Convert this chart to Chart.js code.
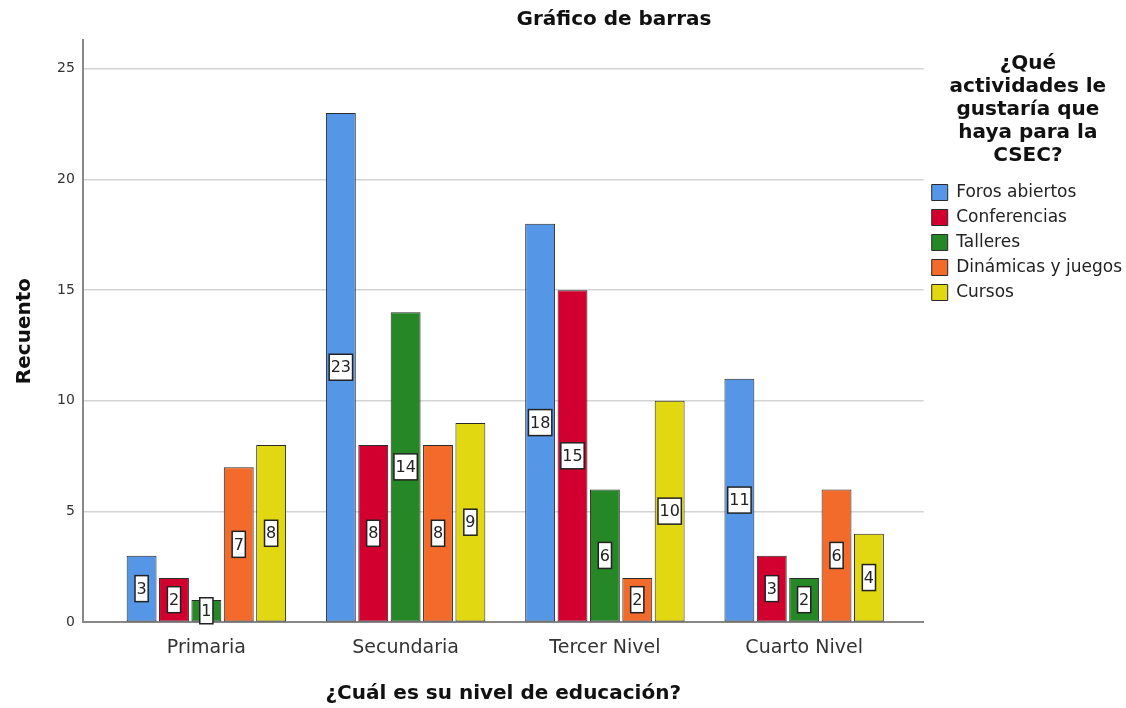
<!DOCTYPE html>
<html>
<head>
<meta charset="utf-8">
<script src="https://cdn.jsdelivr.net/npm/chart.js@4"></script>
<style>
  html, body { margin: 0; background: #fff; }
  #marco { width: 1126px; height: 708px; }
</style>
</head>
<body>
<div id="marco"><canvas id="grafico"></canvas></div>
<script>
const niveles = ['Primaria', 'Secundaria', 'Tercer Nivel', 'Cuarto Nivel'];
const actividades = ['Foros abiertos', 'Conferencias', 'Talleres', 'Dinámicas y juegos', 'Cursos'];
const forosAbiertos = [3, 23, 18, 11];
const conferencias = [2, 8, 15, 3];
const talleres = [1, 14, 6, 2];
const dinamicas = [7, 8, 2, 6];
const cursos = [8, 9, 10, 4];
const ticksY = [0, 5, 10, 15, 20, 25];

const colores = ['#5596e6', '#d2002e', '#268726', '#f26b2b', '#e2d811'];
const series = [forosAbiertos, conferencias, talleres, dinamicas, cursos];

Chart.defaults.font.family = '"DejaVu Sans", sans-serif';
Chart.defaults.color = '#333';

// recuadro blanco con el valor en medio de cada barra
const etiquetas = {
  id: 'etiquetas',
  afterDatasetsDraw(chart) {
    const ctx = chart.ctx;
    ctx.save();
    ctx.font = '16px "DejaVu Sans"';
    ctx.textAlign = 'center';
    ctx.textBaseline = 'middle';
    chart.data.datasets.forEach((ds, i) => {
      chart.getDatasetMeta(i).data.forEach((barra, j) => {
        const txt = String(ds.data[j]);
        const w = ctx.measureText(txt).width + 3;
        const h = 26;
        const cx = barra.x;
        const cy = (barra.y + barra.base) / 2;
        ctx.fillStyle = '#fff';
        ctx.fillRect(cx - w / 2, cy - h / 2, w, h);
        ctx.strokeStyle = '#222';
        ctx.lineWidth = 1.5;
        ctx.strokeRect(cx - w / 2, cy - h / 2, w, h);
        ctx.fillStyle = '#222';
        ctx.fillText(txt, cx, cy + 1);
      });
    });
    ctx.restore();
  }
};

const titulo = {
  id: 'titulo',
  afterDraw(chart) {
    const ctx = chart.ctx;
    ctx.save();
    ctx.font = 'bold 20px "DejaVu Sans"';
    ctx.fillStyle = '#111';
    ctx.textAlign = 'center';
    ctx.textBaseline = 'middle';
    ctx.fillText('Gráfico de barras', 614, 20);
    ctx.restore();
  }
};

new Chart(document.getElementById('grafico'), {
  type: 'bar',
  data: {
    labels: niveles,
    datasets: actividades.map((nombre, i) => ({
      label: nombre,
      data: series[i],
      backgroundColor: colores[i],
      borderColor: '#2a2a2a',
      borderWidth: 1,
      borderSkipped: false,
      categoryPercentage: 0.8125,
      barPercentage: 0.923
    }))
  },
  options: {
    responsive: true,
    maintainAspectRatio: false,
    animation: false,
    layout: { padding: { top: 40, right: -6, bottom: 0, left: 0 } },
    plugins: {
      tooltip: { enabled: false },
      legend: {
        position: 'right',
        align: 'start',
        title: {
          display: true,
          text: ['¿Qué', 'actividades le', 'gustaría que', 'haya para la', 'CSEC?'],
          color: '#111',
          font: { size: 20, weight: 'bold', lineHeight: 1.15 },
          padding: { top: 14, bottom: 99 }
        },
        labels: {
          boxWidth: 16,
          boxHeight: 16,
          padding: 8,
          color: '#222',
          font: { size: 17 }
        }
      }
    },
    scales: {
      x: {
        // cada nivel ocupa ~200 px dejando un margen a los lados del eje
        afterBuildTicks: s => { s._startValue -= 0.12; s._valueRange += 0.22; },
        grid: { display: false, drawTicks: false },
        border: { display: true, color: '#888', width: 2 },
        ticks: { color: '#333', font: { size: 19 }, padding: 14 },
        title: {
          display: true,
          text: '¿Cuál es su nivel de educación?',
          color: '#111',
          font: { size: 20, weight: 'bold' },
          padding: { top: 9, bottom: 2 }
        }
      },
      y: {
        min: 0,
        max: 26.3,
        afterBuildTicks: s => { s.ticks = ticksY.map(v => ({ value: v })); },
        grid: { color: '#d4d4d4', lineWidth: 1.5, drawTicks: false },
        border: { display: true, color: '#888', width: 2 },
        ticks: { color: '#333', font: { size: 14 }, padding: 8 },
        title: {
          display: true,
          text: 'Recuento',
          color: '#111',
          font: { size: 20, weight: 'bold' },
          padding: { top: 13, bottom: 12 }
        }
      }
    }
  },
  plugins: [etiquetas, titulo]
});
</script>
</body>
</html>
